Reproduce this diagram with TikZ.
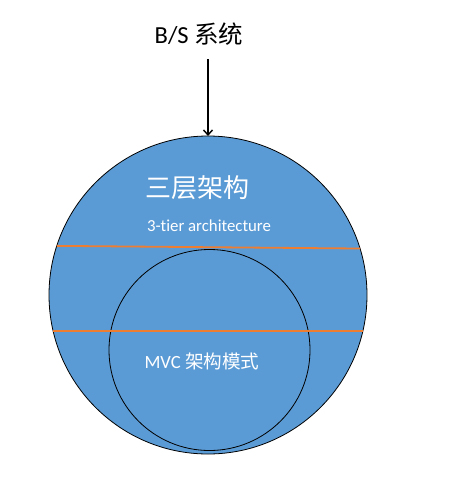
\documentclass[tikz,border=0pt]{standalone}
\usepackage{fontspec}
\usetikzlibrary{arrows.meta}
\setmainfont[Ligatures=NoCommon]{Carlito}
\newfontfamily\cjk{Noto Sans CJK SC}
\definecolor{fillblue}{HTML}{5B9BD5}
\definecolor{lineorange}{HTML}{ED7D31}
\begin{document}
\begin{tikzpicture}[x=1pt,y=-1pt,
  ring/.style={circle,draw=black,line width=0.8pt,inner sep=0pt,outer sep=0pt},
  wtext/.style={text=white,inner sep=0pt},
  divider/.style={draw=lineorange,line width=1.8pt}]
\useasboundingbox (0,0) rectangle (467,480);
\node[ring,fill=fillblue,minimum size=318pt] (outer) at (208,295) {};
\node[ring,minimum size=201pt] (inner) at (209.5,350) {};
\node[inner sep=0pt] (title) at (199,34) {\fontsize{24.5}{28}\selectfont B/S {\cjk 系统}};
\coordinate (arrowtop) at (208,59);
\draw[line width=1.4pt,-{Straight Barb[length=5pt,width=9pt]}] (arrowtop) -- (outer.north);
\node[wtext] (three) at (197,188) {\fontsize{26}{30}\selectfont\cjk 三层架构};
\node[wtext] (tier) at (209,226) {\fontsize{16.8}{20}\selectfont 3-tier architecture};
\node[wtext] (mvc) at (202,361) {\fontsize{18.6}{22}\selectfont MVC {\cjk 架构模式}};
\draw[divider] (outer.162.8) -- (outer.17.2);
\draw[divider] (outer.193.5) -- (outer.-13.5);
\end{tikzpicture}
\end{document}
